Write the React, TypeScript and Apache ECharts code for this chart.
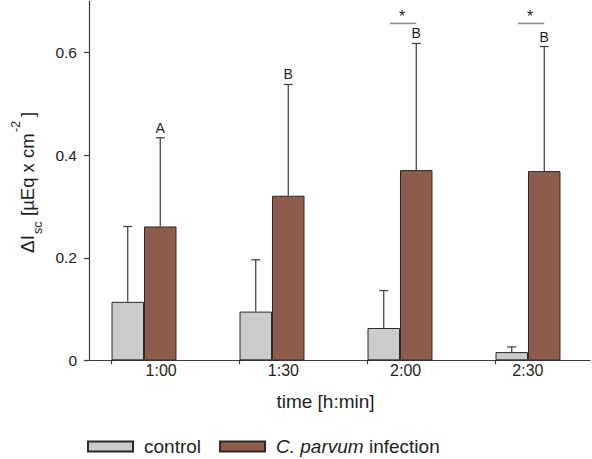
import React, { useEffect, useRef } from 'react';
import * as echarts from 'echarts';

const categories = ['1:00', '1:30', '2:00', '2:30'];
const controlMean = [0.114, 0.095, 0.063, 0.016];
const controlSD = [0.147, 0.101, 0.073, 0.01];
const infectionMean = [0.261, 0.321, 0.371, 0.369];
const infectionSD = [0.173, 0.217, 0.247, 0.243];
const groupLetters = ['A', 'B', 'B', 'B'];
const significant = [false, false, true, true];
const sigLevel = 0.657;
const yTicks = [0, 0.2, 0.4, 0.6];
const seriesNames = ['control', 'C. parvum infection'];

const FONT = '"Liberation Sans", Arial, Helvetica, sans-serif';
const TEXT = '#1e1e1e';
const AXIS = '#3a3a3a';
const CONTROL_COLOR = '#cacbcd';
const INFECTION_COLOR = '#8d5c4a';
const BAR_W = 32.5;
const GRID_TOP = 1.4;
const GRID_H = 358.9;

export default function App() {
  const ref = useRef<HTMLDivElement>(null);

  useEffect(() => {
    if (!ref.current) return;
    const chart = echarts.init(ref.current, undefined, { renderer: 'svg' });

    const renderItem = (params: any, api: any) => {
      const i = api.value(0);
      const base = api.coord([i, 0]);
      const cxC = base[0] - BAR_W / 2;
      const cxI = base[0] + BAR_W / 2;
      const cm = api.value(1);
      const cs = api.value(2);
      const im = api.value(3);
      const is = api.value(4);
      const yCm = api.coord([i, cm])[1];
      const yCt = api.coord([i, cm + cs])[1];
      const yIm = api.coord([i, im])[1];
      const yIt = api.coord([i, im + is])[1];
      const ls = { stroke: AXIS, lineWidth: 1.2 };
      const cap = 4.5;
      const children: any[] = [
        { type: 'line', shape: { x1: cxC, y1: yCm, x2: cxC, y2: yCt }, style: ls },
        { type: 'line', shape: { x1: cxC - cap, y1: yCt, x2: cxC + cap, y2: yCt }, style: ls },
        { type: 'line', shape: { x1: cxI, y1: yIm, x2: cxI, y2: yIt }, style: ls },
        { type: 'line', shape: { x1: cxI - cap, y1: yIt, x2: cxI + cap, y2: yIt }, style: ls },
        {
          type: 'text',
          x: cxI,
          y: yIt - 10,
          style: {
            text: groupLetters[i],
            align: 'center',
            verticalAlign: 'middle',
            fontSize: 14,
            fontFamily: FONT,
            fill: TEXT,
          },
        },
        {
          type: 'line',
          shape: { x1: base[0] - BAR_W, y1: base[1], x2: base[0] - BAR_W, y2: base[1] + 4 },
          style: ls,
        },
      ];
      if (significant[i]) {
        const ys = api.coord([i, sigLevel])[1];
        children.push({
          type: 'line',
          shape: { x1: base[0] - 10, y1: ys, x2: cxI, y2: ys },
          style: { stroke: '#8c8c8c', lineWidth: 1.5 },
        });
        children.push({
          type: 'text',
          x: base[0] + 2,
          y: ys - 7,
          style: {
            text: '*',
            align: 'center',
            verticalAlign: 'middle',
            fontSize: 16,
            fontFamily: FONT,
            fill: TEXT,
          },
        });
      }
      return { type: 'group', children };
    };

    const yTitleStyle = { fontFamily: FONT, fill: TEXT, align: 'left', verticalAlign: 'middle' };

    const option: any = {
      animation: false,
      backgroundColor: '#ffffff',
      textStyle: { fontFamily: FONT },
      grid: [
        { left: 89, width: 501, top: GRID_TOP, height: GRID_H },
        { left: 80, width: 520, top: GRID_TOP, height: GRID_H },
        { left: 100, width: 489, top: GRID_TOP, height: GRID_H },
      ],
      xAxis: [
        {
          gridIndex: 0,
          type: 'value',
          min: 0,
          max: 1,
          axisLine: { show: true, onZero: false, lineStyle: { color: AXIS, width: 1.2 } },
          axisTick: { show: false },
          axisLabel: { show: false },
          splitLine: { show: false },
        },
        { gridIndex: 1, type: 'category', data: categories, show: false },
        {
          gridIndex: 2,
          type: 'category',
          data: categories,
          axisLine: { show: false },
          axisTick: { show: false },
          splitLine: { show: false },
          axisLabel: { fontSize: 16, color: TEXT, fontFamily: FONT, margin: 2 },
        },
      ],
      yAxis: [
        {
          gridIndex: 0,
          type: 'value',
          min: 0,
          max: 0.7,
          axisLine: { show: true, onZero: false, lineStyle: { color: AXIS, width: 1.2 } },
          axisTick: { show: true, length: 5, customValues: yTicks, lineStyle: { color: AXIS, width: 1.2 } },
          axisLabel: { customValues: yTicks, fontSize: 15.5, color: TEXT, fontFamily: FONT, margin: 12 },
          splitLine: { show: false },
        },
        { gridIndex: 1, type: 'value', min: 0, max: 0.7, show: false },
        { gridIndex: 2, type: 'value', min: 0, max: 0.7, show: false },
      ],
      legend: {
        data: seriesNames,
        left: 87,
        top: 437,
        padding: 0,
        itemWidth: 45,
        itemHeight: 10,
        itemGap: 18,
        icon: 'rect',
        formatter: (name: string) =>
          name === 'control' ? '{n0|control}' : '{i|C. parvum}{n| infection}',
        textStyle: {
          fontSize: 19,
          color: TEXT,
          fontFamily: FONT,
          rich: {
            n0: { fontSize: 19, color: TEXT, fontFamily: FONT, padding: [0, 0, 0, 6], lineHeight: 22 },
            i: { fontSize: 19, color: TEXT, fontFamily: FONT, fontStyle: 'italic', padding: [0, 0, 0, 6], lineHeight: 22 },
            n: { fontSize: 19, color: TEXT, fontFamily: FONT, lineHeight: 22 },
          },
        },
      },
      graphic: [
        {
          type: 'text',
          x: 325.5,
          y: 401,
          style: {
            text: 'time [h:min]',
            align: 'center',
            verticalAlign: 'middle',
            fontSize: 19,
            fontFamily: FONT,
            fill: TEXT,
          },
        },
        {
          type: 'group',
          x: 34,
          y: 253,
          rotation: Math.PI / 2,
          children: [
            { type: 'text', x: 0, y: -7, style: { ...yTitleStyle, text: 'ΔI', fontSize: 19 } },
            { type: 'text', x: 19, y: 4, style: { ...yTitleStyle, text: 'sc', fontSize: 12.5 } },
            { type: 'text', x: 37, y: -7, style: { ...yTitleStyle, text: '[µEq x cm', fontSize: 18.5 } },
            { type: 'text', x: 121, y: -18, style: { ...yTitleStyle, text: '-2', fontSize: 12.5 } },
            { type: 'text', x: 136, y: -7, style: { ...yTitleStyle, text: ']', fontSize: 18.5 } },
          ],
        },
      ],
      series: [
        {
          name: seriesNames[0],
          type: 'bar',
          xAxisIndex: 1,
          yAxisIndex: 1,
          data: controlMean,
          barWidth: BAR_W,
          barGap: '0%',
          itemStyle: { color: CONTROL_COLOR, borderColor: '#2a2a2a', borderWidth: 1 },
        },
        {
          name: seriesNames[1],
          type: 'bar',
          xAxisIndex: 1,
          yAxisIndex: 1,
          data: infectionMean,
          barWidth: BAR_W,
          barGap: '0%',
          itemStyle: { color: INFECTION_COLOR, borderColor: '#2a2a2a', borderWidth: 1 },
        },
        {
          type: 'custom',
          xAxisIndex: 1,
          yAxisIndex: 1,
          silent: true,
          z: 10,
          data: categories.map((_, i) => [i, controlMean[i], controlSD[i], infectionMean[i], infectionSD[i]]),
          renderItem,
        },
      ],
    };

    chart.setOption(option);
    return () => chart.dispose();
  }, []);

  return (
    <div
      ref={ref}
      style={{ position: 'fixed', left: 0, top: 0, width: 592, height: 459, background: '#fff' }}
    />
  );
}
